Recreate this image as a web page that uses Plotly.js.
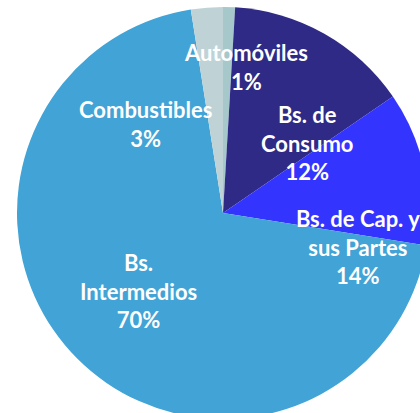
<!DOCTYPE html>
<html><head><meta charset="utf-8">
<script src="https://cdn.plot.ly/plotly-3.0.1.min.js"></script>
<style>html,body{margin:0;padding:0;overflow:hidden;background:#fff;width:420px;height:413px}</style>
</head><body><div id="chart"></div>
<script>
// Slice names (clockwise from 12 o'clock)
const categories = ["Automóviles", "Bs. de Consumo", "Bs. de Cap. y sus Partes", "Bs. Intermedios", "Combustibles"];
// Slice sizes (angles)
const sliceValues = [0.94, 14.5, 12.1, 70.0, 2.5];
// Percent labels as printed on the chart
const pctLabels = ["1%", "12%", "14%", "70%", "3%"];
// Label text lines as printed
const labelLines = [["Automóviles"], ["Bs. de", "Consumo"], ["Bs. de Cap. y", "sus Partes"], ["Bs.", "Intermedios"], ["Combustibles"]];

const colors = ["#A6C8CB", "#2E2A85", "#3434FF", "#41A3D6", "#BFD3D6"];

// layout geometry
const L = 17, T = 7, S = 412;
const W = L + S, H = T + S;
// label anchor pixel positions (center of label block)
const labelPos = [[246, 67], [307, 143], [358, 247], [138, 291], [145, 124]];

const annotations = categories.map((c, i) => ({
  text: labelLines[i].concat([pctLabels[i]]).join("<br>"),
  x: (labelPos[i][0] - L) / S,
  y: 1 - (labelPos[i][1] - T) / S,
  xref: "paper", yref: "paper",
  xanchor: "center", yanchor: "middle",
  showarrow: false,
  align: "center",
  font: {family: "Lato, 'Open Sans', sans-serif", size: 22, color: "#ffffff", weight: "bold"}
}));

Plotly.newPlot("chart", [{
  type: "pie",
  labels: categories,
  values: sliceValues,
  sort: false,
  direction: "clockwise",
  rotation: 0,
  marker: {colors: colors, line: {width: 0}},
  textinfo: "none",
  hoverinfo: "none",
  domain: {x: [0, 1], y: [0, 1]}
}], {
  width: W, height: H,
  margin: {l: L, r: 0, t: T, b: 0, pad: 0},
  showlegend: false,
  paper_bgcolor: "#ffffff",
  annotations: annotations
}, {staticPlot: true, displayModeBar: false});
</script></body></html>
